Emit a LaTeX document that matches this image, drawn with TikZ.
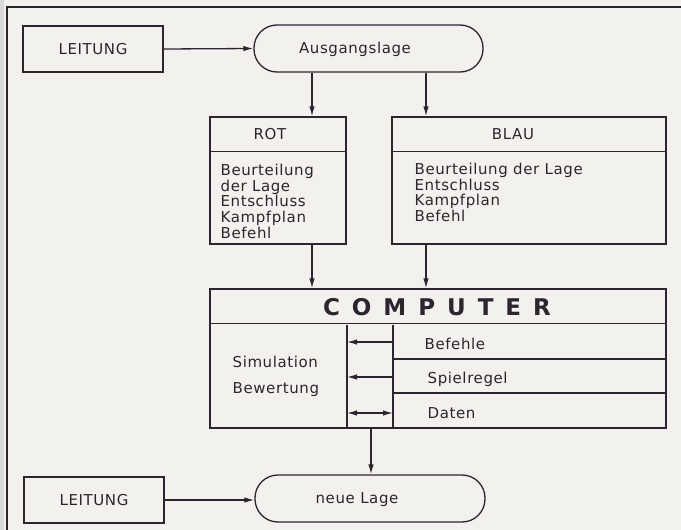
\documentclass[tikz,border=0pt]{standalone}
\usepackage{fontspec}
\setmainfont{DejaVu Sans}[LetterSpace=4]
\newfontfamily\compfont{DejaVu Sans}[LetterSpace=52]
\usetikzlibrary{arrows.meta}
\definecolor{ink}{RGB}{45,36,48}
\definecolor{paper}{RGB}{243,241,237}

\begin{document}
\begin{tikzpicture}[x=1pt,y=-1pt,line width=1.3pt,color=ink,
    font=\fontsize{15}{15.6}\selectfont,
    >={Latex[length=10pt,width=5.5pt]},
    box/.style={draw,inner sep=0pt},
    term/.style={draw,rounded corners=23pt,inner sep=0pt},
    list/.style={align=left,inner sep=0pt,anchor=north west},
    lab/.style={inner sep=0pt,anchor=base west}]
    \useasboundingbox (0,0) rectangle (681,530);
    \fill[paper] (0,0) rectangle (681,530);
    \fill[black!15] (0,0) rectangle (4,530);
    \draw (7,530) -- (7,7) -- (681,7);

    % Ausgangslage
    \node[box,minimum width=140,minimum height=46] (lei1) at (93,49) {LEITUNG};
    \node[term,minimum width=229,minimum height=47] (ausg) at (368.5,48.5) {};
    \node (ausgtxt) at (355,49) {Ausgangslage};
    \draw[->] (lei1.east) -- (ausg.west);

    % Parteien
    \node[box,minimum width=136,minimum height=127] (rot) at (278,180.5) {};
    \draw (rot.north west) ++(0,35) -- ++(136,0);
    \node (rottitle) at (270,134) {ROT};
    \node[list] (rotlist) at (220,163.6) {Beurteilung\\der Lage\\Entschluss\\Kampfplan\\Befehl};

    \node[box,minimum width=274,minimum height=127] (blau) at (529,180.5) {};
    \draw (blau.north west) ++(0,35) -- ++(274,0);
    \node (blautitle) at (513,134) {BLAU};
    \node[list] (blaulist) at (414,162.6) {Beurteilung der Lage\\Entschluss\\Kampfplan\\Befehl};

    \coordinate (r) at (312,0);
    \coordinate (b) at (426,0);
    \draw[->] (ausg.south -| r) -- (rot.north -| r);
    \draw[->] (ausg.south -| b) -- (blau.north -| b);

    % Computer
    \node[box,minimum width=456,minimum height=139] (comp) at (438,358.5) {};
    \draw (comp.north west) ++(0,35) -- ++(456,0);
    \node[font={\compfont\bfseries\fontsize{23}{26}\selectfont}] (comptitle) at (437,307) {COMPUTER};
    \draw[->] (rot.south -| r) -- (comp.north -| r);
    \draw[->] (blau.south -| b) -- (comp.north -| b);

    \coordinate (s1) at (347,0);
    \coordinate (s2) at (393,0);
    \draw (comp.south -| s1) -- ++(0,-104);
    \draw (comp.south -| s2) -- ++(0,-104);
    \draw (393,359) -- (comp.east |- 0,359);
    \draw (393,393) -- (comp.east |- 0,393);

    \node[list,font=\fontsize{15}{26}\selectfont] (sim) at (232,355.5) {Simulation\\Bewertung};
    \node[lab] (bef) at (424,349) {Befehle};
    \node[lab] (spr) at (427,383) {Spielregel};
    \node[lab] (dat) at (427,418) {Daten};
    \coordinate (a1) at (393,342);
    \coordinate (a2) at (393,377);
    \coordinate (a3) at (393,413);
    \draw[->] (a1) -- (a1 -| s1);
    \draw[->] (a2) -- (a2 -| s1);
    \draw[<->] (a3) -- (a3 -| s1);

    % neue Lage
    \node[box,minimum width=140,minimum height=46] (lei2) at (94,500) {LEITUNG};
    \node[term,minimum width=230,minimum height=47] (neue) at (370,498.5) {};
    \node (neuetxt) at (357,500) {neue Lage};
    \draw[->] (lei2.east) -- (lei2.east -| neue.west);
    \coordinate (n) at (371,0);
    \draw[->] (comp.south -| n) -- (neue.north -| n);
\end{tikzpicture}
\end{document}
